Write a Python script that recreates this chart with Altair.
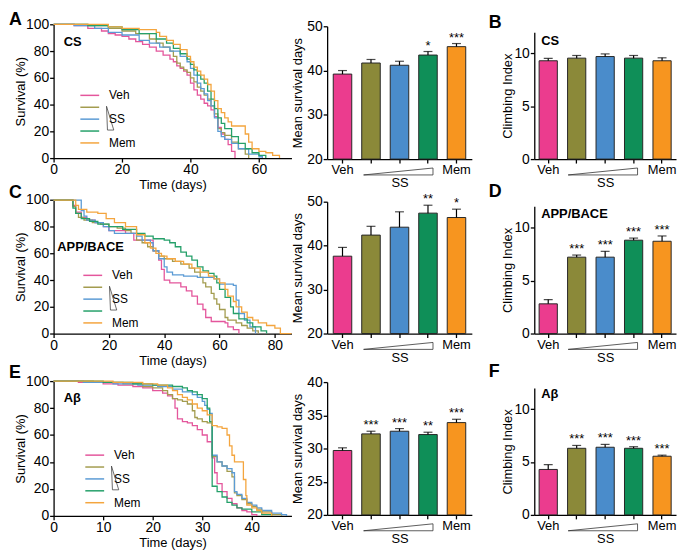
import altair as alt
import pandas as pd

FONT = "Liberation Sans"
GROUPS = ["Veh", "SS-L", "SS-M", "SS-H", "Mem"]
LINE_COLORS = ["#E4569C", "#A39C4F", "#5B9BD5", "#25A06A", "#F4A53E"]
BAR_COLORS = ["#EB3C8E", "#8B8939", "#4A8CCB", "#0F8F58", "#F7951F"]

# ---------------- survival curves: time (days) / survival (%) ----------------
# CS
cs_veh_t = [0, 6, 10, 14, 16, 18, 20, 22, 24, 26, 28, 30, 32, 34, 35, 36, 37, 38, 39, 40, 41, 42, 43, 44, 45, 46, 47, 48, 49, 50, 51, 52, 53]
cs_veh_s = [100, 99, 97, 95, 93, 92, 91, 89, 87, 85, 83, 80, 77, 74, 72, 69, 67, 65, 62, 56, 51, 47, 44, 41, 39, 36, 31, 23, 18, 14, 10, 5, 0]
cs_ssl_t = [0, 10, 16, 20, 24, 28, 30, 32, 34, 35, 36, 37, 38, 39, 40, 41, 42, 43, 44, 45, 46, 47, 48, 49, 50, 52, 54, 56, 57]
cs_ssl_s = [100, 99, 97, 95, 93, 89, 86, 83, 80, 76, 71, 68, 66, 64, 60, 57, 53, 50, 47, 44, 39, 33, 22, 19, 17, 12, 7, 3, 0]
cs_ssm_t = [0, 6, 12, 16, 20, 25, 28, 31, 34, 37, 39, 40, 41, 42, 43, 44, 45, 46, 47, 48, 49, 50, 52, 54, 57, 60, 61]
cs_ssm_s = [100, 99, 97, 94, 92, 88, 86, 83, 80, 76, 72, 67, 62, 56, 52, 48, 43, 39, 30, 20, 16, 14, 11, 7, 3, 1, 0]
cs_ssh_t = [0, 10, 16, 20, 25, 30, 33, 35, 37, 39, 40, 41, 42, 43, 44, 45, 46, 47, 48, 49, 50, 52, 54, 56, 58, 60, 62]
cs_ssh_s = [100, 99, 98, 96, 93, 89, 86, 82, 78, 74, 70, 66, 62, 59, 56, 50, 44, 37, 30, 26, 22, 16, 11, 7, 4, 2, 0]
cs_mem_t = [0, 16, 20, 25, 30, 31, 33, 35, 37, 39, 40, 41, 42, 43, 44, 45, 46, 47, 48, 49, 50, 51, 52, 55, 56, 57, 58, 60, 62, 64, 66]
cs_mem_s = [100, 98, 97, 96, 94, 91, 88, 85, 81, 76, 72, 68, 65, 62, 59, 55, 50, 43, 37, 34, 30, 27, 24, 24, 18, 12, 7, 5, 4, 2, 0]

# APP/BACE
app_veh_t = [0, 7, 8, 10, 12, 15, 18, 20, 26, 29, 36, 38, 39, 40, 42, 46, 48, 50, 52, 54, 55, 57, 62, 63, 65, 67]
app_veh_s = [100, 96, 91, 87, 85, 83, 80, 77, 75, 70, 62, 55, 48, 40, 38, 35, 32, 28, 22, 18, 12, 9, 8, 5, 3, 0]
app_ssl_t = [0, 7, 8, 9, 11, 14, 17, 20, 23, 26, 28, 30, 32, 34, 36, 38, 40, 43, 46, 49, 51, 53, 54, 55, 57, 58, 59, 60, 62, 63, 66, 68, 70, 72, 74]
app_ssl_s = [100, 95, 90, 87, 85, 83, 82, 80, 79, 77, 75, 70, 68, 65, 62, 58, 56, 54, 52, 49, 46, 42, 38, 35, 30, 26, 22, 18, 12, 10, 8, 6, 4, 2, 0]
app_ssm_t = [0, 10, 11, 12, 15, 18, 20, 22, 30, 32, 35, 36, 38, 40, 41, 43, 47, 52, 58, 60, 65, 66, 67, 69, 71, 73]
app_ssm_s = [100, 92, 88, 85, 83, 80, 77, 75, 73, 70, 68, 62, 56, 50, 46, 44, 43, 42, 41, 37, 36, 25, 15, 10, 5, 0]
app_ssh_t = [0, 7, 8, 10, 13, 16, 20, 25, 30, 33, 36, 40, 42, 44, 46, 48, 50, 52, 54, 56, 58, 59, 60, 62, 64, 65, 67, 70, 72, 75, 77]
app_ssh_s = [100, 94, 90, 86, 84, 82, 80, 78, 75, 73, 71, 70, 68, 65, 61, 58, 55, 50, 47, 45, 43, 38, 33, 27, 20, 15, 11, 8, 5, 2, 0]
app_mem_t = [0, 8, 9, 12, 16, 19, 22, 26, 30, 33, 35, 37, 39, 41, 44, 47, 50, 53, 56, 58, 60, 62, 63, 65, 66, 68, 70, 72, 74, 77, 80, 82, 86]
app_mem_s = [100, 96, 93, 91, 90, 86, 83, 80, 74, 68, 64, 60, 58, 56, 54, 52, 49, 46, 43, 41, 38, 33, 28, 24, 20, 16, 12, 10, 8, 6, 4, 0, 0]

# Abeta
ab_veh_t = [0, 5, 10, 13, 16, 18, 20, 22, 23, 24, 24.5, 25, 26, 27, 28, 29, 30, 31, 32, 32.5, 33, 34, 35, 36, 37, 38, 39, 40, 41]
ab_veh_s = [100, 99, 98, 97, 96, 95, 93, 91, 89, 87, 80, 72, 70, 69, 67, 64, 60, 55, 43, 32, 24, 18, 13, 9, 6, 4, 3, 1, 0]
ab_ssl_t = [0, 8, 14, 18, 20, 22, 23, 24, 25, 26, 27, 28, 28.5, 29, 30, 31, 32, 33, 34, 35, 36, 36.5, 37, 38, 39, 40, 41, 42, 44, 46]
ab_ssl_s = [100, 99, 98, 96, 95, 93, 90, 87, 86, 85, 83, 78, 73, 72, 70, 69, 44, 40, 37, 33, 29, 17, 15, 12, 9, 7, 5, 3, 1, 0]
ab_ssm_t = [0, 6, 12, 17, 21, 24, 26, 28, 29, 30, 30.5, 31, 31.5, 32, 33, 34, 35, 36, 36.5, 37, 38, 39, 40, 41, 42, 44, 46, 47]
ab_ssm_s = [100, 99, 98, 97, 96, 94, 92, 90, 88, 85, 82, 79, 76, 45, 40, 37, 35, 32, 18, 16, 13, 10, 8, 6, 4, 2, 1, 0]
ab_ssh_t = [0, 10, 16, 20, 24, 26, 27, 28, 29, 30, 31, 31.5, 32, 33, 34, 35, 36, 37, 38, 40, 42, 44]
ab_ssh_s = [100, 99, 98, 97, 96, 95, 93, 92, 90, 87, 80, 70, 22, 18, 14, 10, 8, 6, 5, 3, 1, 0]
ab_mem_t = [0, 12, 18, 21, 23, 24, 25, 26, 27, 28, 29, 30, 31, 32, 33, 34, 35, 35.5, 36, 36.5, 38, 38.3, 38.8, 39, 40, 41, 42, 44]
ab_mem_s = [100, 99, 98, 97, 95, 93, 90, 88, 86, 83, 80, 78, 75, 67, 66, 65, 60, 52, 45, 40, 40, 27, 15, 8, 6, 4, 2, 0]

# ---------------- mean survival days (mean, SEM, significance) ----------------
cs_mean = [39.2, 41.7, 41.2, 43.5, 45.4]
cs_mean_err = [0.8, 0.8, 0.9, 0.8, 0.7]
cs_mean_sig = ["", "", "", "*", "***"]
app_mean = [37.6, 42.4, 44.2, 47.4, 46.4]
app_mean_err = [2.0, 2.0, 3.5, 1.8, 1.9]
app_mean_sig = ["", "", "", "**", "*"]
ab_mean = [29.7, 32.2, 32.6, 32.1, 33.9]
ab_mean_err = [0.4, 0.4, 0.4, 0.35, 0.5]
ab_mean_sig = ["", "***", "***", "**", "***"]

# ---------------- climbing index ----------------
cs_climb = [9.3, 9.55, 9.7, 9.55, 9.3]
cs_climb_err = [0.22, 0.25, 0.25, 0.25, 0.28]
cs_climb_sig = ["", "", "", "", ""]
app_climb = [2.8, 7.2, 7.2, 8.8, 8.7]
app_climb_err = [0.4, 0.2, 0.55, 0.2, 0.5]
app_climb_sig = ["", "***", "***", "***", "***"]
ab_climb = [4.3, 6.3, 6.4, 6.3, 5.55]
ab_climb_err = [0.45, 0.27, 0.27, 0.15, 0.1]
ab_climb_sig = ["", "***", "***", "***", "***"]

NB = "\u00a0"
WEDGE_V = "M-0.3,-1L-0.22,1L0.31,1Z"
WEDGE_H = "M-1,0.1L1,0.1L1,-0.1Z"
LEG_LINE = "M-1.9,0H1.9"


def single():
    return pd.DataFrame({"k": [0]})


def text_mark(txt, x, y, size, bold=True):
    return alt.Chart(single()).mark_text(
        text=txt, fontSize=size, fontWeight="bold" if bold else "normal", font=FONT,
        align="left", baseline="alphabetic", color="black"
    ).encode(x=alt.value(x), y=alt.value(y))


def survival_panel(curves, xmax, xticks, h, top, letter, letter_y, tag, tag_x, tag_y, leg_x, leg_y):
    rows = []
    for g, (t, s) in zip(GROUPS, curves):
        for i, (ti, si) in enumerate(zip(t, s)):
            rows.append({"group": g, "time": ti, "surv": si, "i": i})
    df = pd.DataFrame(rows)
    legend = alt.Legend(
        orient="none", legendX=leg_x, legendY=leg_y, title=None, direction="vertical",
        symbolType=LEG_LINE, symbolSize=100, symbolStrokeWidth=1.5,
        labelFontSize=12, labelFont=FONT, labelColor="black", labelOffset=13.5,
        rowPadding=0, padding=0,
        labelExpr=f"datum.label == 'SS-M' ? '{NB}{NB}SS' : (datum.label == 'SS-L' || datum.label == 'SS-H') ? '' : datum.label",
    )
    lines = alt.Chart(df).mark_line(interpolate="step-after", strokeWidth=1.3).encode(
        x=alt.X("time:Q", scale=alt.Scale(domain=[0, xmax], nice=False),
                axis=alt.Axis(values=xticks, title="Time (days)", labelFontSize=14, titleFontSize=13,
                              labelPadding=1, titlePadding=2, labelFlush=False, format="d")),
        y=alt.Y("surv:Q", scale=alt.Scale(domain=[0, 100], range=[h, top], nice=False),
                axis=alt.Axis(values=[0, 20, 40, 60, 80, 100], title="Survival (%)", labelFontSize=14,
                              titleFontSize=13, labelPadding=1, titlePadding=-2)),
        color=alt.Color("group:N", scale=alt.Scale(domain=GROUPS, range=LINE_COLORS), legend=legend),
        order=alt.Order("i:Q"),
    )
    wedge = alt.Chart(single()).mark_point(
        shape=WEDGE_V, size=576, filled=False, color="#444444", strokeWidth=0.8, opacity=1
    ).encode(x=alt.value(leg_x + 26.5), y=alt.value(leg_y + 29))
    return alt.layer(
        lines, wedge,
        text_mark(letter, -45, letter_y, 18),
        text_mark(tag, tag_x, tag_y, 13),
    ).properties(width=240, height=h)


def bar_panel(vals, errs, sigs, ydom, yticks, h, top, ytitle, width, xrange, pi, po, tpad,
              wedge_x, letter=None, letter_y=0, tag=None, tag_x=0, tag_y=0):
    df = pd.DataFrame({
        "group": GROUPS, "v": vals,
        "hi": [v + e for v, e in zip(vals, errs)], "sig": sigs,
    })
    xenc = alt.X("group:N", sort=GROUPS,
                 scale=alt.Scale(domain=GROUPS, range=[0, xrange], paddingInner=pi, paddingOuter=po),
                 axis=alt.Axis(title="SS", labelAngle=0, labelFontSize=13, titleFontSize=13,
                               labelPadding=1, titlePadding=0,
                               labelExpr="datum.value == 'Veh' || datum.value == 'Mem' ? datum.value : ''"))
    yscale = alt.Scale(domain=ydom, range=[h, top], nice=False, zero=False)
    yaxis = alt.Axis(values=yticks, title=ytitle, labelFontSize=14, titleFontSize=13,
                     labelPadding=1, titlePadding=tpad)
    base = alt.Chart(df).encode(x=xenc)
    bars = base.mark_bar(stroke="#262626", strokeWidth=1).encode(
        y=alt.Y("v:Q", scale=yscale, axis=yaxis),
        y2=alt.datum(ydom[0]),
        color=alt.Color("group:N", scale=alt.Scale(domain=GROUPS, range=BAR_COLORS), legend=None),
    )
    err = base.mark_rule(color="black", strokeWidth=1.2).encode(
        y=alt.Y("v:Q", scale=yscale, axis=yaxis), y2="hi:Q")
    cap = base.mark_tick(color="black", thickness=1.2, size=9, orient="horizontal").encode(
        y=alt.Y("hi:Q", scale=yscale, axis=yaxis))
    stars = base.mark_text(dy=-2, baseline="alphabetic", fontSize=13, font=FONT, color="black").encode(
        y=alt.Y("hi:Q", scale=yscale, axis=yaxis), text="sig:N")
    wedge = alt.Chart(single()).mark_point(
        shape=WEDGE_H, size=4900, filled=False, color="#333333", strokeWidth=0.8, opacity=1
    ).encode(x=alt.value(wedge_x), y=alt.value(h + 12.5))
    layers = [bars, err, cap, stars, wedge]
    if letter:
        layers.append(text_mark(letter, -46, letter_y, 18))
    if tag:
        layers.append(text_mark(tag, tag_x, tag_y, 13))
    return alt.layer(*layers).properties(width=width, height=h)


def mean_panel(vals, errs, sigs, ydom, yticks, h, top):
    return bar_panel(vals, errs, sigs, ydom, yticks, h, top, "Mean survival days",
                     173, 146, 0.35, 0.214, 2.4, 71.8)


def climb_panel(vals, errs, sigs, h, top, letter, letter_y, tag, tag_y):
    return bar_panel(vals, errs, sigs, [0, 12], [0, 5, 10], h, top, "Climbing Index",
                     143, 143, 0.36, 0.17, -1, 69.2, letter, letter_y, tag, 7, tag_y)


cs_curves = [(cs_veh_t, cs_veh_s), (cs_ssl_t, cs_ssl_s), (cs_ssm_t, cs_ssm_s), (cs_ssh_t, cs_ssh_s), (cs_mem_t, cs_mem_s)]
app_curves = [(app_veh_t, app_veh_s), (app_ssl_t, app_ssl_s), (app_ssm_t, app_ssm_s), (app_ssh_t, app_ssh_s), (app_mem_t, app_mem_s)]
ab_curves = [(ab_veh_t, ab_veh_s), (ab_ssl_t, ab_ssl_s), (ab_ssm_t, ab_ssm_s), (ab_ssh_t, ab_ssh_s), (ab_mem_t, ab_mem_s)]

panels = [
    survival_panel(cs_curves, 69.5, [0, 20, 40, 60], 135, 0, "A", 1, "CS", 10.3, 21.7, 30.5, 65.7),
    mean_panel(cs_mean, cs_mean_err, cs_mean_sig, [20, 50], [20, 30, 40, 50], 136, 2),
    climb_panel(cs_climb, cs_climb_err, cs_climb_sig, 136, 8, "B", 4, "CS", 20.7),

    survival_panel(app_curves, 86, [0, 20, 40, 60, 80], 136, 1.3, "C", -1, "APP/BACE", 3.7, 52.3, 33.5, 71.3),
    mean_panel(app_mean, app_mean_err, app_mean_sig, [20, 50], [20, 30, 40, 50], 136, 3),
    climb_panel(app_climb, app_climb_err, app_climb_sig, 136, 7.6, "D", -2, "APP/BACE", 19),

    survival_panel(ab_curves, 48, [0, 10, 20, 30, 40], 144, 8, "E", 5.3, "A\u03b2", 10.3, 29, 35.5, 76.7),
    mean_panel(ab_mean, ab_mean_err, ab_mean_sig, [20, 40], [20, 25, 30, 35, 40], 143, 9),
    climb_panel(ab_climb, ab_climb_err, ab_climb_sig, 143, 15, "F", 3.7, "A\u03b2", 25.3),
]

chart = alt.concat(
    *panels, columns=3, spacing={"row": 40, "column": 36}, bounds="flush", align="each"
).resolve_scale(color="independent").properties(
    padding={"left": 0, "top": 0, "right": 0, "bottom": 0}
).configure(font=FONT).configure_view(stroke="transparent").configure_axis(
    grid=False, domainColor="black", tickColor="black", labelColor="black", titleColor="black",
    labelFont=FONT, titleFont=FONT, titleFontWeight="normal", domainWidth=1.3, tickWidth=1.3, tickSize=4
)

chart.save("out.html", embed_options={"renderer": "svg", "actions": False})
